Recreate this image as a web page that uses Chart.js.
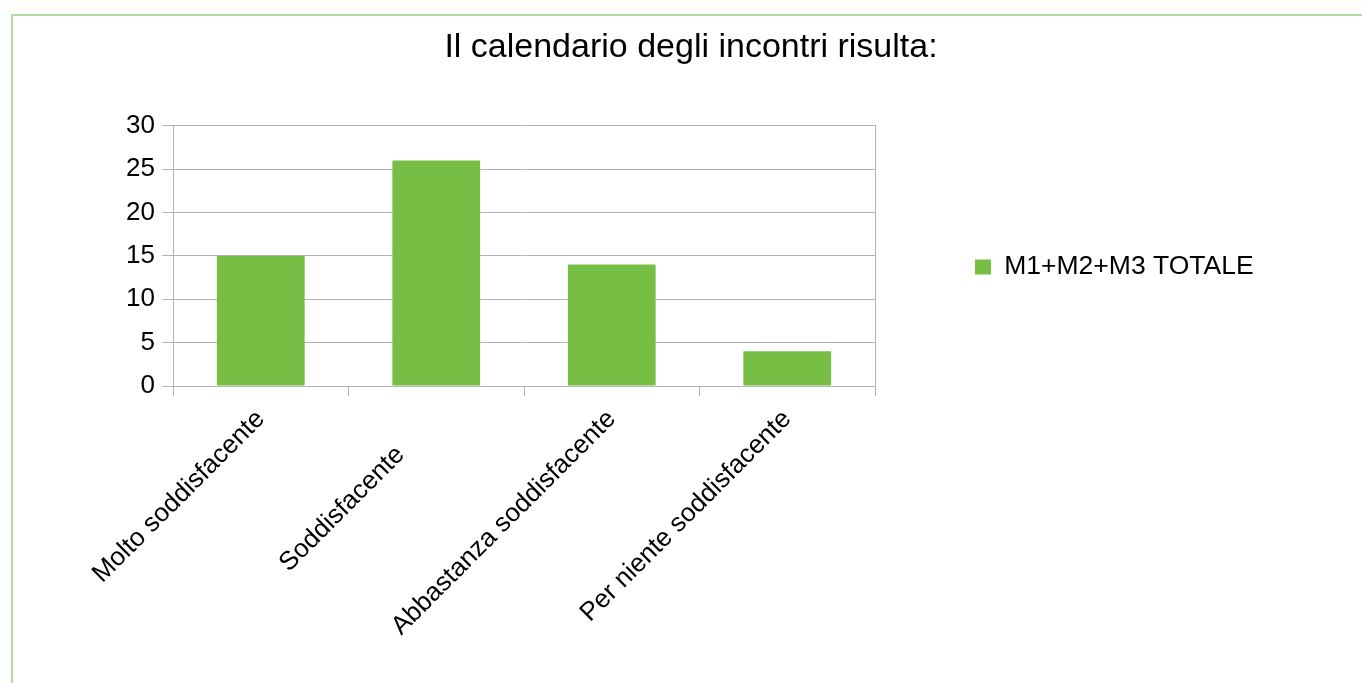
<!DOCTYPE html>
<html>
<head>
<meta charset="utf-8">
<script src="https://cdn.jsdelivr.net/npm/chart.js@4/dist/chart.umd.min.js"></script>
<style>
  html, body { margin: 0; padding: 0; background: #fff; overflow: hidden; }
  #wrap { position: relative; width: 1362px; height: 683px; }
  #frame {
    position: absolute; left: 11px; top: 14px; width: 1400px; height: 700px;
    border-left: 2px solid #b4dc9c; border-top: 2px solid #b4dc9c;
    pointer-events: none;
  }
</style>
</head>
<body>
<div id="wrap">
  <canvas id="calChart"></canvas>
  <div id="frame"></div>
</div>
<script>
// the source sheet had trailing blanks on "Soddisfacente", which pushes it down the slope
const categories = ["Molto soddisfacente", "Soddisfacente       ", "Abbastanza soddisfacente", "Per niente soddisfacente"];
const totals = [15, 26, 14, 4];
const seriesName = "M1+M2+M3 TOTALE";
const chartTitle = "Il calendario degli incontri risulta:";

const gridGray = "#b3b3b3";
const txt = { family: "'Liberation Sans', Arial, sans-serif", size: 26 };

// side legend gets squeezed to half the free width, give it a fixed one
const LegendBox = Chart.Legend._element;
const baseFit = LegendBox.prototype.fit;
LegendBox.prototype.fit = function () {
  baseFit.call(this);
  if (!this.isHorizontal()) this.width = 382;
};

// push the legend down a little, like the original
const legendNudge = {
  id: "legendNudge",
  afterLayout(chart) {
    chart.legend.top += 11;
    chart.legend.bottom += 11;
  }
};

new Chart("calChart", {
  type: "bar",
  data: {
    labels: categories,
    datasets: [{
      label: seriesName,
      data: totals,
      backgroundColor: "#76bf44",
      borderWidth: 0,
      barPercentage: 1,
      categoryPercentage: 0.5
    }]
  },
  plugins: [legendNudge],
  options: {
    responsive: true,
    maintainAspectRatio: false,
    animation: false,
    layout: { padding: { left: 125, right: 105, top: 0, bottom: 0 } },
    plugins: {
      title: {
        display: true,
        text: chartTitle,
        color: "#000",
        font: { family: txt.family, size: 34, weight: "normal" },
        padding: { top: 27, bottom: 58 }
      },
      legend: {
        position: "right",
        fullSize: false,
        labels: {
          color: "#000",
          font: { family: txt.family, size: 26.5 },
          boxWidth: 16,
          boxHeight: 15,
          padding: 100
        }
      },
      tooltip: { enabled: false }
    },
    scales: {
      x: {
        grid: { offset: true, drawOnChartArea: false, color: gridGray, tickLength: 10 },
        border: { color: gridGray },
        ticks: { color: "#000", font: txt, minRotation: 45, maxRotation: 45, padding: 8 },
        afterFit: function(scale) { scale.height = 297; }
      },
      y: {
        min: 0,
        max: 30,
        ticks: { stepSize: 5, color: "#000", font: txt, padding: 7 },
        grid: { color: gridGray, tickLength: 11 },
        border: { color: gridGray },
        afterFit: function(scale) { scale.width = 48; }
      },
      yRight: {
        position: "right",
        grid: { display: false },
        ticks: { display: false },
        border: { color: gridGray },
        afterFit: function(scale) { scale.width = 0; }
      }
    }
  }
});
</script>
</body>
</html>
